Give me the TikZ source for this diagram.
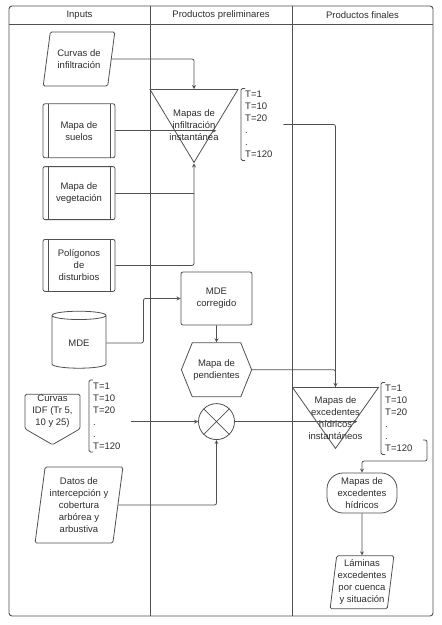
\documentclass[tikz,border=0pt]{standalone}
\usepackage{fontspec}
\setmainfont{Liberation Sans}
\usepackage{xcolor}
\usepackage{tikz}
\usetikzlibrary{shapes, arrows, positioning, shapes.geometric, shapes.symbols}
\definecolor{linegray}{RGB}{80, 80, 80}
\definecolor{textgray}{RGB}{45, 45, 45}
\newcommand{\shapetext}[2][0pt]{\smash{\makebox[0pt]{\raisebox{#1}{\begin{tabular}{@{}c@{}}#2\end{tabular}}}}}

\begin{document}
\begin{tikzpicture}[x=1pt, y=-1pt, node distance=17pt, >=stealth,
    font=\fontsize{9.5}{12}\selectfont, text=textgray,
    lane/.style={draw=linegray, line width=0.9pt},
    datablock/.style={trapezium, trapezium left angle=75, trapezium right angle=105, trapezium stretches=true, draw=linegray, line width=0.8pt, rounded corners=1.5pt, align=center, minimum width=72pt, minimum height=54pt, inner sep=1pt},
    procblock/.style={rectangle, draw=linegray, line width=0.8pt, rounded corners=2pt, align=center, minimum width=72pt, minimum height=53pt,
        path picture={\draw[linegray, line width=0.8pt] ([xshift=5pt]path picture bounding box.north west) -- ([xshift=5pt]path picture bounding box.south west)
            ([xshift=-5pt]path picture bounding box.north east) -- ([xshift=-5pt]path picture bounding box.south east);}},
    mapblock/.style={isosceles triangle, shape border rotate=270, isosceles triangle stretches, draw=linegray, line width=0.8pt, inner sep=0pt},
    tlist/.style={align=left, text width=38pt, inner xsep=0pt, inner ysep=2.5pt},
    arrow/.style={->, draw=linegray, line width=0.8pt, rounded corners=2pt},
    line/.style={draw=linegray, line width=0.8pt, rounded corners=2pt}]

    \useasboundingbox (0,0) rectangle (442,625);

    % Lanes
    \draw[lane, rounded corners=3pt] (9,6) rectangle (433,616);
    \draw[lane] (9,24) -- (433,24);
    \draw[lane] (150,6) -- (150,616);
    \draw[lane] (292,6) -- (292,616);
    \node (h_inputs) at (79.5,15) {Inputs};
    \node (h_prelim) at (221,15) {Productos preliminares};
    \node (h_final) at (362.5,15) {Productos finales};

    % Inputs
    \node[datablock] (infil) at (79,59) {Curvas de\\infiltración};
    \node[procblock, minimum height=54pt, below=of infil] (suelos) {Mapa de\\suelos};
    \node[procblock, below=8pt of suelos] (veget) {Mapa de\\vegetación};
    \node[procblock, minimum height=52pt, below=19pt of veget] (polig) {Polígonos\\de\\disturbios};
    \node[cylinder, shape border rotate=90, aspect=0.3, draw=linegray, line width=0.8pt, minimum width=54pt, minimum height=57pt, below=19pt of polig] (mde) {MDE};
    \node[signal, signal to=south, signal from=nowhere, signal pointer angle=120, draw=linegray, line width=0.8pt, rounded corners=1.5pt, align=center, minimum width=55pt, minimum height=37pt, inner sep=1pt] (idf) at (52.5,411.5) {Curvas\\IDF (Tr 5,\\10 y 25)};
    \node[tlist, anchor=west] (t_idf) at (93,416) {T=1\\T=10\\T=20\\.\\.\\T=120};
    \node[datablock, trapezium left angle=81, trapezium right angle=99, minimum width=88pt, minimum height=76pt] (datos) at (79,505) {Datos de\\intercepción y\\cobertura\\arbórea y\\arbustiva};

    % Productos preliminares
    \node[mapblock, minimum width=88pt, minimum height=73pt, anchor=north] (infmap) at (194,89) {\shapetext[-14pt]{Mapas de\\infiltración\\instantánea}};
    \node[tlist, anchor=west] (t_inf) at (245,124.5) {T=1\\T=10\\T=20\\.\\.\\T=120};
    \node[rectangle, draw=linegray, line width=0.8pt, rounded corners=2pt, align=center, minimum width=71pt, minimum height=53pt] (mdecorr) at (216.5,298.5) {MDE\\corregido};
    \node[signal, signal to=east and west, signal pointer angle=136, draw=linegray, line width=0.8pt, align=center, minimum width=70pt, minimum height=54pt, inner sep=1pt, below=of mdecorr] (pend) {Mapa de\\pendientes};
    \node[circle, draw=linegray, line width=0.8pt, minimum size=36pt, below=6pt of pend,
        path picture={\draw[linegray, line width=0.8pt] (path picture bounding box.north west) -- (path picture bounding box.south east)
            (path picture bounding box.north east) -- (path picture bounding box.south west);}] (cross) {};

    % Productos finales
    \node[mapblock, minimum width=86pt, minimum height=61pt, anchor=north] (excmap) at (335.5,387) {\shapetext[-12pt]{Mapas de\\excedentes\\hídricos\\instantáneos}};
    \node[tlist, anchor=west] (t_exc) at (385,418.5) {T=1\\T=10\\T=20\\.\\.\\T=120};
    \node[rectangle, draw=linegray, line width=0.8pt, rounded corners=16pt, align=center, minimum width=70pt, minimum height=40pt] (exced) at (362,493) {Mapas de\\excedentes\\hídricos};
    \node[datablock, trapezium left angle=82, trapezium right angle=98, minimum width=63pt, minimum height=53pt, below=42pt of exced] (laminas) {Láminas\\excedentes\\por cuenca\\y situación};
    \coordinate (hook) at (423,440);

    % Brackets
    \foreach \t in {t_inf, t_idf, t_exc}
        \draw[line, rounded corners=1.5pt] (\t.north west) -- ++(-4,0) |- (\t.south west);

    % Connections
    \draw[arrow] (infil.east) -| (infmap.north);
    \draw[arrow] (suelos.east) -- (suelos.east -| infmap.left side);
    \draw[line] (veget.east) -- (veget.east -| infmap.apex);
    \draw[arrow] (polig.east) -| (infmap.apex);
    \draw[arrow] (mde.east) -- ++(37,0) |- (mdecorr.west);
    \draw[arrow] (mdecorr) -- (pend);
    \draw[line] (t_inf.east) -| (excmap.north);
    \draw[arrow] (pend.east) -| (excmap.north);
    \draw[arrow] (t_idf.east |- cross.west) -- (cross.west);
    \draw[arrow] (datos.east) -| (cross.south);
    \draw[arrow] (cross.east) -- (cross.east -| excmap.left side);
    \draw[arrow] (hook) -- ++(4,0) -- ++(0,21) -| (exced.north);
    \draw[arrow] (exced) -- (laminas);
\end{tikzpicture}
\end{document}
